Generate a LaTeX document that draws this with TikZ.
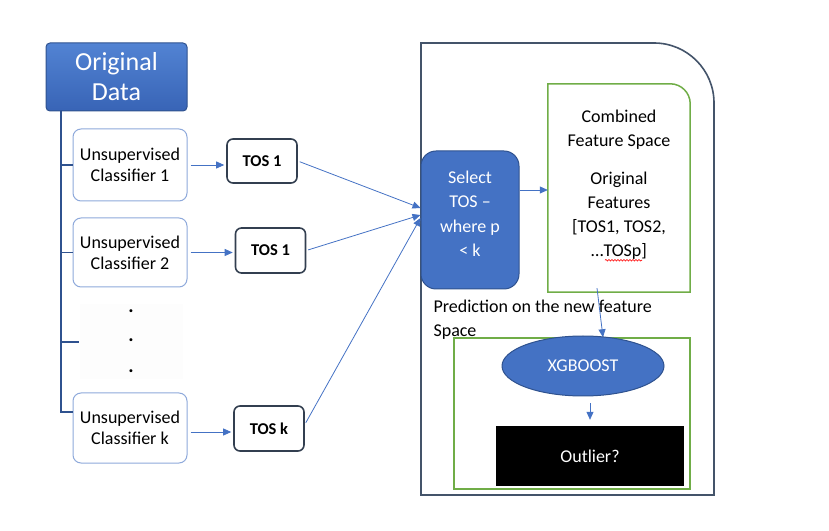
\documentclass[tikz,border=0pt]{standalone}
\usepackage{fontspec}
\setmainfont{Carlito}
\usetikzlibrary{arrows.meta,shapes.geometric,decorations.pathmorphing}

\definecolor{msblue}{HTML}{4472C4}
\definecolor{msdark}{HTML}{2F528F}
\definecolor{origtop}{HTML}{5283D3}
\definecolor{origbot}{HTML}{3864B6}
\definecolor{frameblue}{HTML}{44546A}
\definecolor{msgreen}{HTML}{70AD47}
\definecolor{clsline}{HTML}{8EA9DB}
\definecolor{tosline}{HTML}{333F50}

\tikzset{
  origbox/.style={draw=msdark, line width=1pt, rounded corners=4pt, top color=origtop, bottom color=origbot,
    text=white, align=center, minimum width=141pt, minimum height=68pt, font=\fontsize{26}{30}\selectfont},
  clsbox/.style={draw=clsline, fill=white, line width=1pt, rounded corners=8pt, align=center,
    minimum width=114pt, font=\fontsize{18}{21}\selectfont},
  tosbox/.style={draw=tosline, line width=1.6pt, rounded corners=6pt, minimum width=70pt, minimum height=45pt,
    font=\fontsize{16.5}{19}\selectfont\bfseries},
  selbox/.style={draw=msdark, fill=msblue, line width=1pt, rounded corners=15pt, text=white, align=center,
    minimum width=98pt, minimum height=138pt, font=\fontsize{18}{24.5}\selectfont},
  plain/.style={align=center, font=\fontsize{18}{24}\selectfont},
  trunk/.style={draw=msdark, line width=1.3pt},
  arr/.style={draw=msblue, line width=0.8pt, -{Triangle[length=8pt,width=7pt]}},
  frame/.style={draw=frameblue, line width=1.6pt},
  greenline/.style={draw=msgreen, line width=1.5pt}
}

\begin{document}
\begin{tikzpicture}[x=1pt,y=1pt]
\useasboundingbox (0,0) rectangle (829,530);

% outer frame
\draw[frame] (421,35) -- (421,487) -- (654,487) arc[start angle=90,end angle=0,radius=60pt] -- (714,35) -- cycle;

% left column
\node[origbox] (orig) at (116.5,453) {Original\\Data};
\node[clsbox, minimum height=72pt] (cls1) at (130,365) {Unsupervised\\Classifier 1};
\node[clsbox, minimum height=69pt] (cls2) at (130,277.5) {Unsupervised\\Classifier 2};
\node[fill=gray!1.5, minimum width=103pt, minimum height=75pt] (dots) at (131,188) {};
\node[plain, font=\fontsize{20}{24}\selectfont\bfseries] (dot1) at (131,219) {.};
\node[plain, font=\fontsize{20}{24}\selectfont\bfseries] (dot2) at (131,190) {.};
\node[plain, font=\fontsize{20}{24}\selectfont\bfseries] (dot3) at (131,159) {.};
\node[clsbox, minimum height=70pt] (clsk) at (130,102) {Unsupervised\\Classifier k};

\coordinate (top) at (61,419);
\draw[trunk] (top) -- (61,118);
\draw[trunk] (top) |- (cls1.west);
\draw[trunk] (top) |- (cls2.west);
\draw[trunk] (top) |- (dots.west);
\draw[trunk] (top) |- ([yshift=16pt]clsk.west);

% TOS boxes
\node[tosbox, minimum height=44pt] (tos1) at (262,369) {TOS 1};
\node[tosbox] (tos2) at (270.5,279.5) {TOS 1};
\node[tosbox] (tosk) at (269,101.5) {TOS k};

\draw[arr, shorten <=3pt, shorten >=2pt] (cls1.east) -- (cls1.east -| tos1.west);
\draw[arr, shorten <=3pt, shorten >=2pt] (cls2.east) -- (cls2.east -| tos2.west);
\draw[arr, shorten <=3pt, shorten >=2pt] ([yshift=-4pt]clsk.east) -- ([yshift=-4pt]clsk.east -| tosk.west);

% selection and features
\node[selbox] (sel) at (470,310) {};
\node[plain, text=white, font=\fontsize{18}{24.5}\selectfont] (seltext) at (470,316) {Select\\TOS --\\where p\\< k};
\draw[arr, shorten <=2pt] (tos1.east) -- ([yshift=12pt]sel.west);
\draw[arr, shorten <=2pt] (tos2.east) -- ([yshift=5pt]sel.west);
\draw[arr, shorten <=2pt] ([yshift=4pt]tosk.east) -- ([yshift=2pt]sel.west);

\node[minimum width=142pt, minimum height=208pt] (comb) at (619,342) {};
\draw[greenline] (comb.south west) -- (comb.north west) -- ([xshift=-20pt]comb.north east)
  arc[start angle=90,end angle=0,radius=20pt] -- (comb.south east) -- cycle;
\node[plain, anchor=north] (combtext) at ([yshift=-23pt]comb.north)
  {Combined\\Feature Space\\[14pt]Original\\Features\\{[}TOS1, TOS2,\\\ldots TOSp]};
\draw[red, line width=0.6pt, decorate, decoration={snake, amplitude=0.8pt, segment length=3pt}]
  ([xshift=-14pt,yshift=3pt]combtext.south) -- ++(37pt,0);
\draw[arr] ([yshift=30pt]sel.east) -- ([yshift=30pt]sel.east -| comb.west);

\node[plain, align=left, anchor=west] (pred) at (430,210) {Prediction on the new feature\\Space};

% prediction
\node[greenline, minimum width=236pt, minimum height=151pt] (model) at (572,116.5) {};
\draw[arr] ([xshift=-22pt,yshift=4pt]comb.south) -- ([xshift=31pt]model.north);
\node[ellipse, draw=msdark, fill=msblue, line width=1pt, minimum width=162pt, minimum height=60pt,
  text=white, font=\fontsize{18}{22}\selectfont] (xgb) at (583,164) {XGBOOST};
\node[fill=black, minimum width=188pt, minimum height=60pt, text=white,
  font=\fontsize{18}{22}\selectfont] (out) at (590,74) {Outlier?};
\draw[arr, shorten <=7pt, shorten >=6pt] (xgb.south -| out.north) -- (out.north);
\end{tikzpicture}
\end{document}
